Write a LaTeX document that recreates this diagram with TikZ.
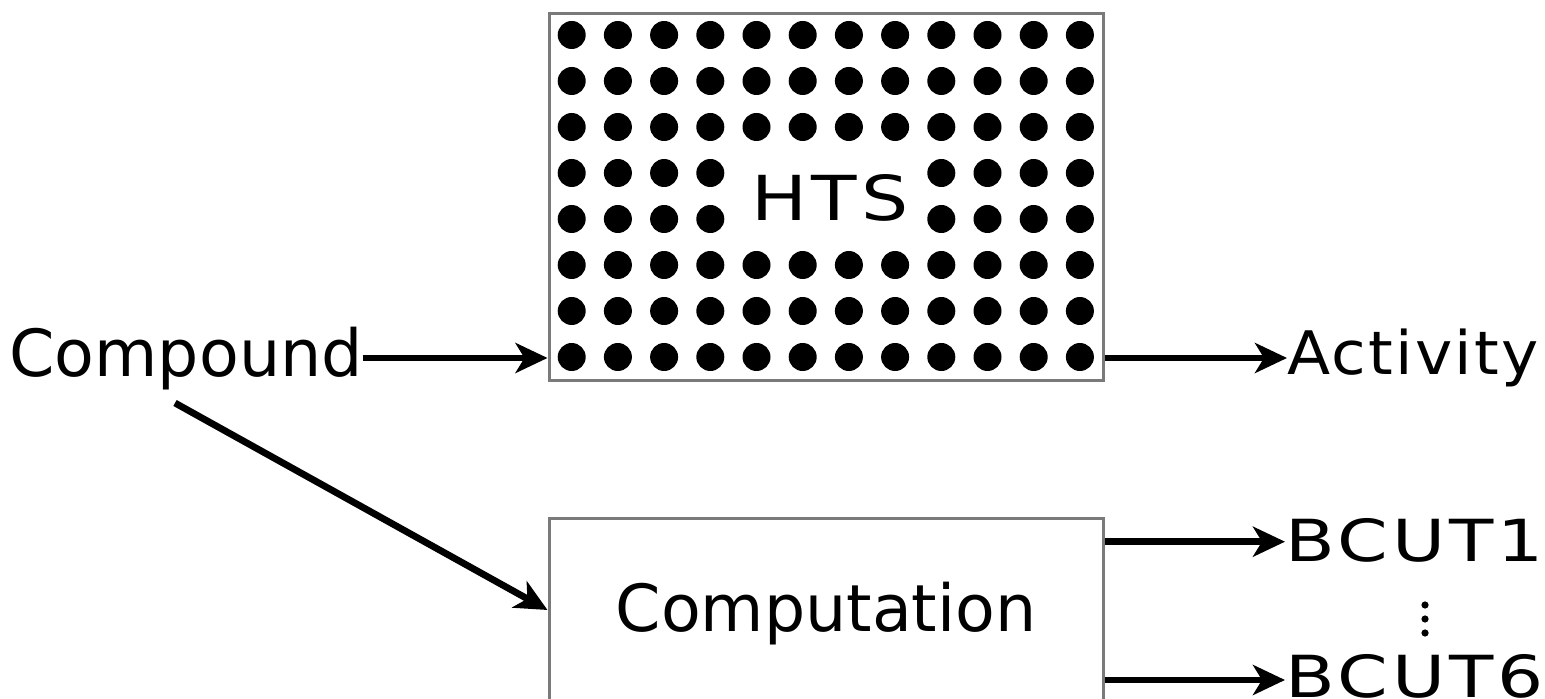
\documentclass[tikz,border=0pt]{standalone}
\usepackage{fontspec}
\usetikzlibrary{arrows.meta}
\newfontfamily\dvfont{DejaVu Sans}
\newfontfamily\dvhts[LetterSpace=6]{DejaVu Sans}
\newfontfamily\dvact[LetterSpace=3.7]{DejaVu Sans}
\newfontfamily\dvbcut[LetterSpace=5.5]{DejaVu Sans}
\definecolor{boxgray}{HTML}{7A7A7A}
\tikzset{
  frame/.style={draw=boxgray, line width=1.5pt, rectangle, inner sep=0pt,
    minimum width=277pt},
  lbl/.style={inner sep=0pt, outer sep=0pt, text depth=0pt},
  arr/.style={line width=3.4pt, -{Stealth[length=16pt, width=15pt, inset=4.5pt]}},
  dot/.style={fill=black}
}
\begin{document}
\begin{tikzpicture}[x=0.5pt, y=-0.5pt]
\useasboundingbox (0,0) rectangle (1545,699);
\clip (0,0) rectangle (1545,699);
% HTS plate
\node[frame, minimum height=183.5pt] (hts) at (826,197.5) {};
\foreach \i in {0,...,11}{
  \foreach \j in {0,...,7}{
    \pgfmathtruncatemacro{\skip}{(\i>3)*(\i<8)*(\j>2)*(\j<5)}
    \ifnum\skip=0
      \fill[dot] ({571.7+46.2*\i},{35+46*\j}) circle[radius=7pt];
    \fi
  }
}
\node[lbl, anchor=base, font=\dvhts\fontsize{31pt}{36pt}\selectfont] (htsl) at (830,221) {\scalebox{1.2}[1]{HTS}};
% Computation box
\node[frame, minimum height=92pt, text height=21pt, text depth=0pt,
  font=\dvfont\fontsize{32.5pt}{38pt}\selectfont] (comp) at (826,610) {Computation};
% labels
\node[lbl, anchor=base west, text height=19pt, font=\dvfont\fontsize{32.5pt}{38pt}\selectfont] (cmp) at (9.5,377) {Compound};
\node[lbl, anchor=base west, text height=17pt, font=\dvact\fontsize{30pt}{36pt}\selectfont] (act) at (1287,375) {\scalebox{1.05}[1]{Activity}};
\node[lbl, anchor=base west, text height=20pt, font=\dvbcut\fontsize{29pt}{34pt}\selectfont] (b1) at (1285,561.7) {\scalebox{1.25}[1]{BCUT1}};
\node[lbl, anchor=base west, text height=17pt, font=\dvbcut\fontsize{29pt}{34pt}\selectfont] (b6) at (1285,697) {\scalebox{1.25}[1]{BCUT6}};
% vertical dots
\foreach \y in {605,619,633} \fill (1425,\y) circle[radius=1.8pt];
% connectors
\coordinate (dstart) at (175,403);
\draw[arr] (cmp.east) -- (cmp.east -| hts.west);
\draw[arr] (act.west -| hts.east) -- (act.west);
\draw[arr] (dstart) -- (comp.west);
\draw[arr] (b1.west -| comp.east) -- (b1.west);
\draw[arr] (b6.west -| comp.east) -- (b6.west);
\end{tikzpicture}
\end{document}
